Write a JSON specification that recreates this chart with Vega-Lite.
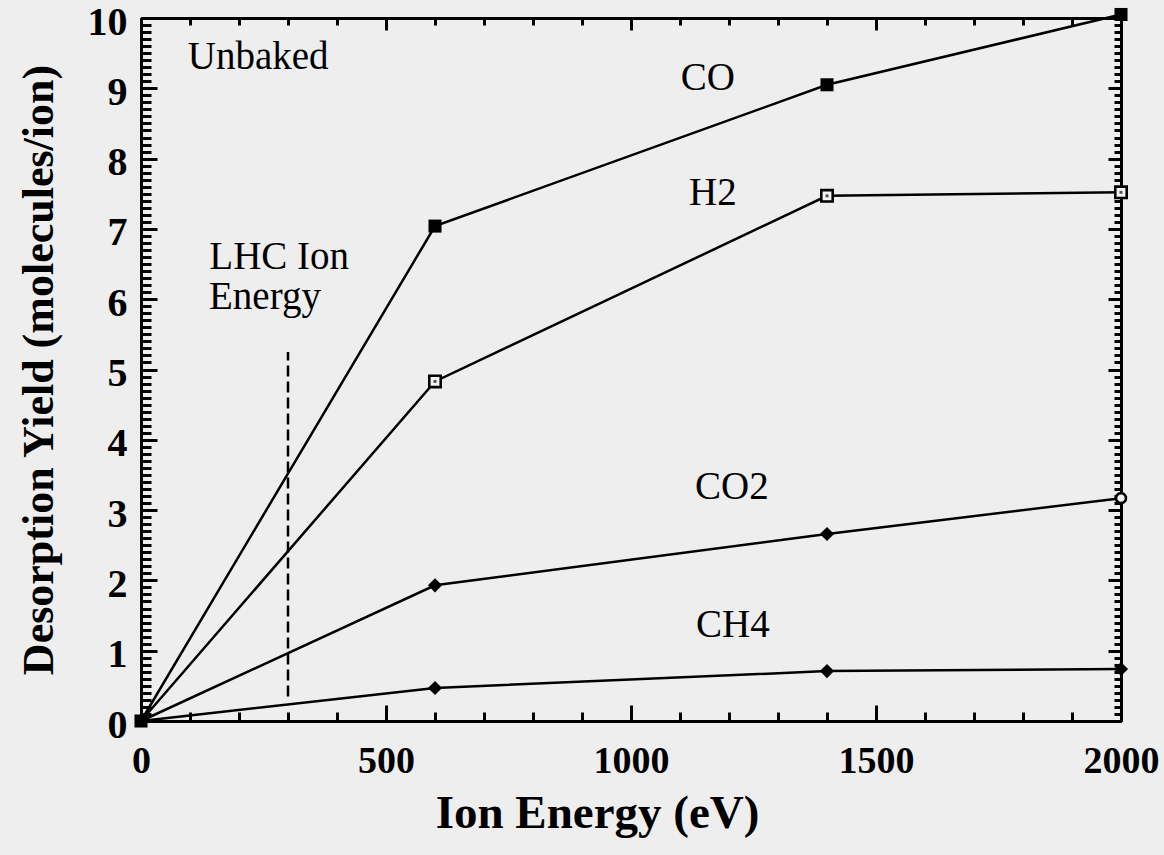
{
  "$schema": "https://vega.github.io/schema/vega-lite/v6.json",
  "width": 980,
  "height": 703,
  "autosize": {"type": "none"},
  "padding": {"left": 141, "top": 18, "right": 43, "bottom": 134},
  "background": "#eeeeee",
  "config": {
    "view": {"stroke": null},
    "font": "Liberation Serif",
    "axis": {
      "domainColor": "black",
      "domainWidth": 3,
      "tickColor": "black",
      "tickWidth": 3,
      "labelColor": "black",
      "titleColor": "black",
      "grid": false
    }
  },
  "datasets": {
    "series": [
      {"series": "CO", "energy": 0, "yield": 0},
      {"series": "CO", "energy": 600, "yield": 7.04},
      {"series": "CO", "energy": 1400, "yield": 9.05},
      {"series": "CO", "energy": 2000, "yield": 10.05},
      {"series": "H2", "energy": 0, "yield": 0},
      {"series": "H2", "energy": 600, "yield": 4.83},
      {"series": "H2", "energy": 1400, "yield": 7.47},
      {"series": "H2", "energy": 2000, "yield": 7.52},
      {"series": "CO2", "energy": 0, "yield": 0},
      {"series": "CO2", "energy": 600, "yield": 1.93},
      {"series": "CO2", "energy": 1400, "yield": 2.66},
      {"series": "CO2", "energy": 2000, "yield": 3.17},
      {"series": "CH4", "energy": 0, "yield": 0},
      {"series": "CH4", "energy": 600, "yield": 0.47},
      {"series": "CH4", "energy": 1400, "yield": 0.71},
      {"series": "CH4", "energy": 2000, "yield": 0.74}
    ],
    "labels": [
      {"label": "Unbaked", "energy": 239, "yield": 9.45},
      {"label": "LHC Ion", "energy": 282, "yield": 6.6},
      {"label": "Energy", "energy": 253, "yield": 6.03},
      {"label": "CO", "energy": 1157, "yield": 9.15},
      {"label": "H2", "energy": 1167, "yield": 7.51},
      {"label": "CO2", "energy": 1206, "yield": 3.33},
      {"label": "CH4", "energy": 1208, "yield": 1.37}
    ],
    "lhc": [{"energy": 300, "y0": 0.35, "y1": 5.25}]
  },
  "resolve": {"axis": {"x": "independent", "y": "independent"}},
  "layer": [
    {
      "data": {"name": "series"},
      "mark": {"type": "line", "color": "black"},
      "encoding": {
        "x": {
          "field": "energy", "type": "quantitative",
          "scale": {"domain": [0, 2000], "nice": false, "zero": false},
          "axis": {
            "orient": "bottom", "values": [0, 500, 1000, 1500, 2000], "format": "d",
            "tickSize": -16, "labelPadding": 37, "labelFontSize": 38, "labelFontWeight": "bold",
            "labelFlush": false, "labelOverlap": false,
            "title": "Ion Energy (eV)", "titleFontSize": 47, "titleFontWeight": "bold", "titlePadding": 10, "titleX": 456
          }
        },
        "y": {
          "field": "yield", "type": "quantitative",
          "scale": {"domain": [0, 10], "nice": false, "zero": false},
          "axis": {
            "orient": "left", "values": [0, 1, 2, 3, 4, 5, 6, 7, 8, 9, 10], "format": "d",
            "tickSize": -16, "labelPadding": 30, "labelFontSize": 40, "labelFontWeight": "bold", "labelOffset": 4,
            "labelFlush": false, "labelOverlap": false,
            "title": "Desorption Yield (molecules/ion)", "titleFontSize": 44, "titleFontWeight": "bold", "titlePadding": 26
          }
        },
        "detail": {"field": "series", "type": "nominal"},
        "strokeWidth": {
          "field": "series", "type": "nominal",
          "scale": {"domain": ["CO", "H2", "CO2", "CH4"], "range": [2.5, 2.5, 4, 4]},
          "legend": null
        }
      }
    },
    {
      "data": {"name": "lhc"},
      "mark": {"type": "rule", "color": "black", "strokeWidth": 2.5, "strokeDash": [11, 5]},
      "encoding": {
        "x": {
          "field": "energy", "type": "quantitative",
          "axis": {
            "orient": "bottom",
            "values": [0, 100, 200, 300, 400, 500, 600, 700, 800, 900, 1000, 1100, 1200, 1300, 1400, 1500, 1600, 1700, 1800, 1900, 2000],
            "tickSize": -9, "labels": false, "title": null
          }
        },
        "y": {
          "field": "y0", "type": "quantitative",
          "axis": {
            "orient": "left",
            "values": [0, 0.1, 0.2, 0.3, 0.4, 0.5, 0.6, 0.7, 0.8, 0.9, 1, 1.1, 1.2, 1.3, 1.4, 1.5, 1.6, 1.7, 1.8, 1.9, 2, 2.1, 2.2, 2.3, 2.4, 2.5, 2.6, 2.7, 2.8, 2.9, 3, 3.1, 3.2, 3.3, 3.4, 3.5, 3.6, 3.7, 3.8, 3.9, 4, 4.1, 4.2, 4.3, 4.4, 4.5, 4.6, 4.7, 4.8, 4.9, 5, 5.1, 5.2, 5.3, 5.4, 5.5, 5.6, 5.7, 5.8, 5.9, 6, 6.1, 6.2, 6.3, 6.4, 6.5, 6.6, 6.7, 6.8, 6.9, 7, 7.1, 7.2, 7.3, 7.4, 7.5, 7.6, 7.7, 7.8, 7.9, 8, 8.1, 8.2, 8.3, 8.4, 8.5, 8.6, 8.7, 8.8, 8.9, 9, 9.1, 9.2, 9.3, 9.4, 9.5, 9.6, 9.7, 9.8, 9.9, 10],
            "tickSize": -10, "labels": false, "title": null
          }
        },
        "y2": {"field": "y1"}
      }
    },
    {
      "data": {"name": "series"},
      "transform": [{"filter": "datum.series === 'CO'"}],
      "mark": {"type": "point", "shape": "square", "filled": true, "color": "black", "size": 170, "opacity": 1},
      "encoding": {
        "x": {
          "field": "energy", "type": "quantitative",
          "axis": {"orient": "top", "values": [0, 500, 1000, 1500, 2000], "tickSize": -12, "labels": false, "title": null}
        },
        "y": {
          "field": "yield", "type": "quantitative",
          "axis": {"orient": "right", "values": [0, 1, 2, 3, 4, 5, 6, 7, 8, 9, 10], "tickSize": -13, "labels": false, "title": null}
        }
      }
    },
    {
      "data": {"name": "series"},
      "transform": [{"filter": "datum.series === 'H2' && datum.energy > 0"}],
      "mark": {"type": "point", "shape": "square", "filled": false, "fill": "#f4f4f4", "fillOpacity": 1, "stroke": "black", "strokeWidth": 2.6, "size": 130, "opacity": 1},
      "encoding": {
        "x": {
          "field": "energy", "type": "quantitative",
          "axis": {
            "orient": "top",
            "values": [0, 100, 200, 300, 400, 500, 600, 700, 800, 900, 1000, 1100, 1200, 1300, 1400, 1500, 1600, 1700, 1800, 1900, 2000],
            "tickSize": -7, "labels": false, "title": null
          }
        },
        "y": {
          "field": "yield", "type": "quantitative",
          "axis": {
            "orient": "right",
            "values": [0, 0.1, 0.2, 0.3, 0.4, 0.5, 0.6, 0.7, 0.8, 0.9, 1, 1.1, 1.2, 1.3, 1.4, 1.5, 1.6, 1.7, 1.8, 1.9, 2, 2.1, 2.2, 2.3, 2.4, 2.5, 2.6, 2.7, 2.8, 2.9, 3, 3.1, 3.2, 3.3, 3.4, 3.5, 3.6, 3.7, 3.8, 3.9, 4, 4.1, 4.2, 4.3, 4.4, 4.5, 4.6, 4.7, 4.8, 4.9, 5, 5.1, 5.2, 5.3, 5.4, 5.5, 5.6, 5.7, 5.8, 5.9, 6, 6.1, 6.2, 6.3, 6.4, 6.5, 6.6, 6.7, 6.8, 6.9, 7, 7.1, 7.2, 7.3, 7.4, 7.5, 7.6, 7.7, 7.8, 7.9, 8, 8.1, 8.2, 8.3, 8.4, 8.5, 8.6, 8.7, 8.8, 8.9, 9, 9.1, 9.2, 9.3, 9.4, 9.5, 9.6, 9.7, 9.8, 9.9, 10],
            "tickSize": -7, "labels": false, "title": null
          }
        }
      }
    },
    {
      "data": {"name": "series"},
      "transform": [{"filter": "datum.series === 'H2' && datum.energy > 0"}],
      "mark": {"type": "point", "shape": "square", "filled": true, "color": "#555555", "size": 9, "opacity": 1},
      "encoding": {
        "x": {"field": "energy", "type": "quantitative", "axis": null},
        "y": {"field": "yield", "type": "quantitative", "axis": null}
      }
    },
    {
      "data": {"name": "series"},
      "transform": [{"filter": "(datum.series === 'CH4' && datum.energy > 0) || (datum.series === 'CO2' && datum.energy > 0 && datum.energy < 2000)"}],
      "mark": {"type": "point", "shape": "diamond", "filled": true, "color": "black", "size": 200, "opacity": 1},
      "encoding": {
        "x": {"field": "energy", "type": "quantitative", "axis": null},
        "y": {"field": "yield", "type": "quantitative", "axis": null}
      }
    },
    {
      "data": {"name": "series"},
      "transform": [{"filter": "datum.series === 'CO2' && datum.energy === 2000"}],
      "mark": {"type": "point", "shape": "circle", "filled": false, "fill": "#f4f4f4", "fillOpacity": 1, "stroke": "black", "strokeWidth": 2.6, "size": 100, "opacity": 1},
      "encoding": {
        "x": {"field": "energy", "type": "quantitative", "axis": null},
        "y": {"field": "yield", "type": "quantitative", "axis": null}
      }
    },
    {
      "data": {"name": "labels"},
      "mark": {"type": "text", "font": "Liberation Serif", "fontSize": 39, "color": "black", "align": "center", "baseline": "middle"},
      "encoding": {
        "x": {"field": "energy", "type": "quantitative", "axis": null},
        "y": {"field": "yield", "type": "quantitative", "axis": null},
        "text": {"field": "label"}
      }
    }
  ]
}
